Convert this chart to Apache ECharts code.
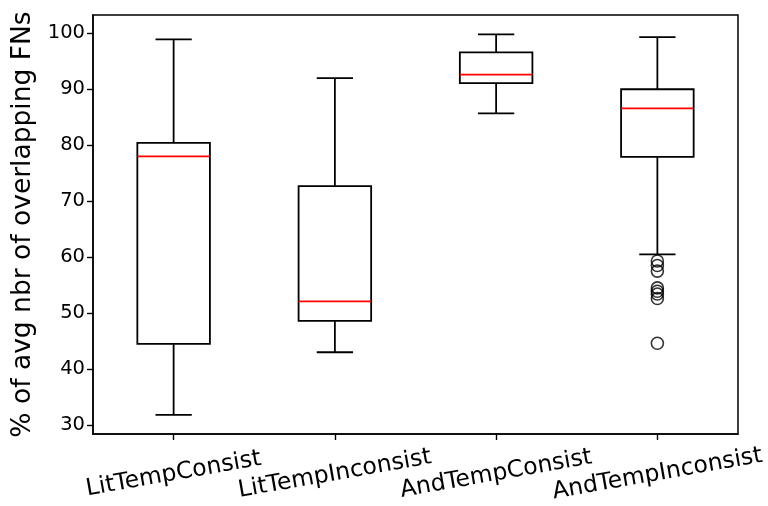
<!DOCTYPE html>
<html>
<head>
<meta charset="utf-8">
<script src="https://cdn.jsdelivr.net/npm/echarts@6/dist/echarts.min.js"></script>
<style>
html,body{margin:0;padding:0;background:#fff;}
#chart{width:768px;height:506px;}
</style>
</head>
<body>
<div id="chart"></div>
<script>
var categories = ['LitTempConsist', 'LitTempInconsist', 'AndTempConsist', 'AndTempInconsist'];
var whiskerLow  = [31.8, 43.0, 85.7, 60.5];
var q1          = [44.5, 48.6, 91.1, 77.9];
var median      = [78.0, 52.1, 92.6, 86.6];
var q3          = [80.4, 72.7, 96.6, 90.0];
var whiskerHigh = [98.9, 92.0, 99.8, 99.3];
var outlierCategory = [3, 3, 3, 3, 3, 3, 3, 3];
var outlierValues   = [59.3, 58.5, 57.5, 54.5, 53.9, 53.4, 52.6, 44.6];
var yTicks = [30, 40, 50, 60, 70, 80, 90, 100];

var boxData = categories.map(function (c, i) {
  return [i, whiskerLow[i], q1[i], median[i], q3[i], whiskerHigh[i]];
});
var outlierData = outlierValues.map(function (v, i) {
  return [outlierCategory[i], v];
});

var FONT = 'DejaVu Sans';
var chart = echarts.init(document.getElementById('chart'), null, {renderer: 'canvas'});

function renderBox(params, api) {
  var idx = api.value(0);
  var band = api.size([1, 0])[0];
  var boxW = band * 0.45;
  var capW = boxW * 0.5;
  var pLow = api.coord([idx, api.value(1)]);
  var pQ1 = api.coord([idx, api.value(2)]);
  var pMed = api.coord([idx, api.value(3)]);
  var pQ3 = api.coord([idx, api.value(4)]);
  var pHigh = api.coord([idx, api.value(5)]);
  var x = pQ1[0];
  var black = {stroke: '#000', lineWidth: 1.8, fill: null};
  return {
    type: 'group',
    children: [
      {type: 'line', shape: {x1: x, y1: pQ1[1], x2: x, y2: pLow[1]}, style: black},
      {type: 'line', shape: {x1: x, y1: pQ3[1], x2: x, y2: pHigh[1]}, style: black},
      {type: 'line', shape: {x1: x - capW / 2, y1: pLow[1], x2: x + capW / 2, y2: pLow[1]}, style: black},
      {type: 'line', shape: {x1: x - capW / 2, y1: pHigh[1], x2: x + capW / 2, y2: pHigh[1]}, style: black},
      {type: 'rect', shape: {x: x - boxW / 2, y: pQ3[1], width: boxW, height: pQ1[1] - pQ3[1]},
        style: {stroke: '#000', lineWidth: 1.8, fill: 'rgba(0,0,0,0)'}},
      {type: 'line', shape: {x1: x - boxW / 2, y1: pMed[1], x2: x + boxW / 2, y2: pMed[1]},
        style: {stroke: '#ff0000', lineWidth: 1.8}}
    ]
  };
}

chart.setOption({
  backgroundColor: '#fff',
  animation: false,
  grid: {
    left: 93, right: 30, top: 15, bottom: 72,
    show: true, borderColor: '#000', borderWidth: 1.5, backgroundColor: 'transparent'
  },
  xAxis: {
    type: 'category',
    data: categories,
    boundaryGap: true,
    axisLine: {show: true, lineStyle: {color: '#000', width: 1.5}},
    axisTick: {show: true, alignWithLabel: true, length: 6, inside: false, lineStyle: {color: '#000', width: 1.4}},
    axisLabel: {
      interval: 0, rotate: 10, align: 'center', verticalAlign: 'middle', margin: 40,
      fontFamily: FONT, fontSize: 23.5, color: '#000', hideOverlap: false
    },
    splitLine: {show: false}
  },
  yAxis: {
    type: 'value',
    min: 28.39, max: 103.27,
    name: '% of avg nbr of overlapping FNs',
    nameLocation: 'middle',
    nameGap: 56,
    nameRotate: 90,
    nameTextStyle: {fontFamily: FONT, fontSize: 26.5, color: '#000'},
    axisLine: {show: true, lineStyle: {color: '#000', width: 1.5}},
    axisTick: {show: true, length: 6, inside: false, customValues: yTicks, lineStyle: {color: '#000', width: 1.4}},
    axisLabel: {customValues: yTicks, fontFamily: FONT, fontSize: 19.5, color: '#000', margin: 8},
    splitLine: {show: false}
  },
  series: [
    {
      type: 'custom',
      renderItem: renderBox,
      encode: {x: 0, y: [1, 2, 3, 4, 5]},
      data: boxData,
      z: 2
    },
    {
      type: 'scatter',
      data: outlierData,
      symbol: 'circle',
      symbolSize: 12,
      itemStyle: {color: 'rgba(0,0,0,0)', borderColor: '#000', borderWidth: 1.6},
      z: 3
    }
  ]
});
</script>
</body>
</html>
